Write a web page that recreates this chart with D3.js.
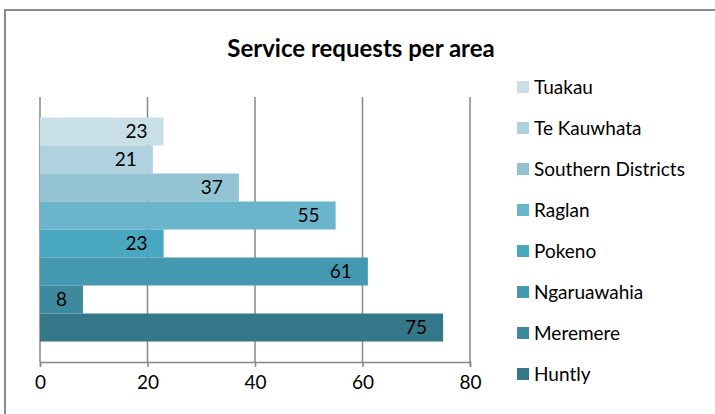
<!DOCTYPE html>
<html>
<head>
<meta charset="utf-8">
<script src="https://cdn.jsdelivr.net/npm/d3@7"></script>
<style>
  html, body { margin: 0; padding: 0; background: #fff; }
  svg { display: block; font-family: Lato, "Open Sans", sans-serif; }
</style>
</head>
<body>
<svg id="chart" width="715" height="414"></svg>
<script>
// Service requests per area (one category, one bar per area)
const areas = ["Tuakau", "Te Kauwhata", "Southern Districts", "Raglan", "Pokeno", "Ngaruawahia", "Meremere", "Huntly"];
const requests = [23, 21, 37, 55, 23, 61, 8, 75];
const areaColors = ["#c8dfe6", "#afd2de", "#93c3d3", "#6bb5cc", "#4aa7c0", "#4499b1", "#3d8a9f", "#347789"];
const xTicks = [0, 20, 40, 60, 80];
const chartTitle = "Service requests per area";

const svg = d3.select("#chart");
const W = 715, H = 414;
const FS = 19;

// chart frame (runs off the right and bottom edges)
svg.append("rect")
  .attr("x", 5).attr("y", 10)
  .attr("width", W + 10).attr("height", H + 10)
  .attr("fill", "#fff")
  .attr("stroke", "#8a8a8a").attr("stroke-width", 2);

const plot = { left: 40, right: 470, top: 97, bottom: 362 };

const x = d3.scaleLinear().domain([0, 80]).range([plot.left, plot.right]);

// single category band, areas packed side by side inside it
const cat = d3.scaleBand().domain(["requests"]).range([plot.top, plot.bottom]).paddingOuter(0.0915).paddingInner(0);
const y = d3.scaleBand().domain(areas).range([cat("requests"), cat("requests") + cat.bandwidth()]).padding(0);

// title
svg.append("text")
  .attr("x", 361).attr("y", 57)
  .attr("text-anchor", "middle")
  .attr("font-size", 24).attr("font-weight", "bold")
  .attr("fill", "#000")
  .text(chartTitle);

// vertical gridlines
svg.append("g")
  .selectAll("line")
  .data(xTicks)
  .join("line")
  .attr("x1", d => x(d)).attr("x2", d => x(d))
  .attr("y1", plot.top).attr("y2", plot.bottom)
  .attr("stroke", "#878787").attr("stroke-width", 1.5);

// bars
const data = areas.map((a, i) => ({ area: a, value: requests[i], color: areaColors[i] }));
svg.append("g")
  .selectAll("rect")
  .data(data)
  .join("rect")
  .attr("x", x(0))
  .attr("y", d => y(d.area))
  .attr("width", d => x(d.value) - x(0))
  .attr("height", y.bandwidth())
  .attr("fill", d => d.color);

// value labels inside the bar end
svg.append("g")
  .selectAll("text")
  .data(data)
  .join("text")
  .attr("x", d => x(d.value) - 16)
  .attr("y", d => y(d.area) + y.bandwidth() / 2)
  .attr("dy", "0.36em")
  .attr("text-anchor", "end")
  .attr("font-size", FS)
  .attr("fill", "#000")
  .text(d => d.value);

// bottom axis
const xAxis = d3.axisBottom(x).tickValues(xTicks).tickSize(5).tickPadding(9).tickFormat(d3.format("d"));
const ax = svg.append("g").attr("transform", `translate(0,${plot.bottom})`).call(xAxis);
ax.select(".domain").attr("stroke", "#878787").attr("stroke-width", 1.5);
ax.selectAll(".tick line").attr("stroke", "#878787").attr("stroke-width", 1.5);
ax.selectAll(".tick text").attr("font-size", FS).attr("font-family", "Lato, 'Open Sans', sans-serif").attr("fill", "#000");

// legend
const legY = d3.scalePoint().domain(areas).range([87, 374]);
const leg = svg.append("g")
  .selectAll("g")
  .data(data)
  .join("g")
  .attr("transform", d => `translate(517,${legY(d.area)})`);
leg.append("rect")
  .attr("x", 0).attr("y", -6)
  .attr("width", 12).attr("height", 12)
  .attr("fill", d => d.color);
leg.append("text")
  .attr("x", 17).attr("y", 0)
  .attr("dy", "0.36em")
  .attr("font-size", FS)
  .attr("fill", "#000")
  .text(d => d.area);
</script>
</body>
</html>
